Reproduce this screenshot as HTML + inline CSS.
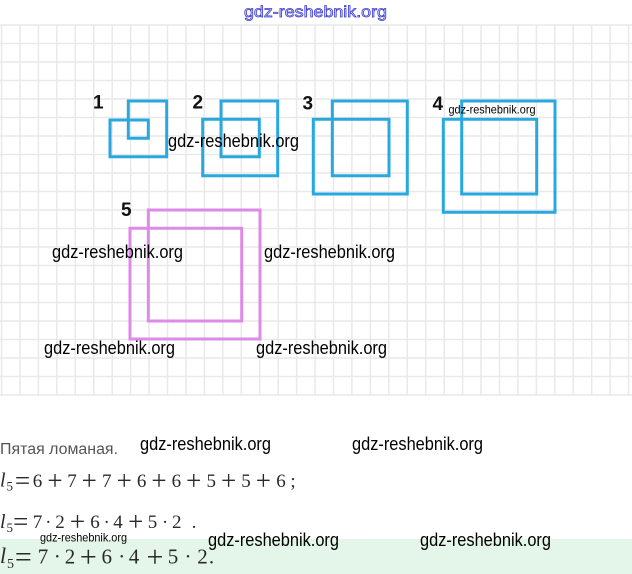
<!DOCTYPE html>
<html>
<head>
<meta charset="utf-8">
<style>
  html, body { margin: 0; padding: 0; background: #ffffff; }
  body { width: 632px; height: 574px; overflow: hidden; }
  svg { display: block; }
</style>
</head>
<body>
<svg width="632" height="574" viewBox="0 0 632 574" xmlns="http://www.w3.org/2000/svg">
  <rect x="0" y="0" width="632" height="574" fill="#ffffff"/>

  <!-- green band -->
  <rect x="0" y="539" width="632" height="35" fill="#e3f6e9"/>

  <!-- grid -->
  <g stroke="#e9e9e9" stroke-width="1.5" fill="none">
    <path d="M0 25H632 M0 43.5H632 M0 62H632 M0 80.5H632 M0 99H632 M0 117.5H632 M0 136H632 M0 154.5H632 M0 173H632 M0 191.5H632 M0 210H632 M0 228.5H632 M0 247H632 M0 265.5H632 M0 284H632 M0 302.5H632 M0 321H632 M0 339.5H632 M0 358H632 M0 376.5H632 M0 395H632"/>
    <path d="M1.6 25V395 M20 25V395 M38.4 25V395 M56.9 25V395 M75.3 25V395 M93.8 25V395 M112.2 25V395 M130.6 25V395 M149.1 25V395 M167.5 25V395 M186 25V395 M204.4 25V395 M222.9 25V395 M241.3 25V395 M259.7 25V395 M278.2 25V395 M296.6 25V395 M315.1 25V395 M333.5 25V395 M351.9 25V395 M370.4 25V395 M388.8 25V395 M407.3 25V395 M425.7 25V395 M444.2 25V395 M462.6 25V395 M481 25V395 M499.5 25V395 M517.9 25V395 M536.4 25V395 M554.8 25V395 M573.2 25V395 M591.7 25V395 M610.1 25V395 M628.6 25V395"/>
  </g>

  <!-- shapes -->
  <g fill="none" stroke="#29a8e0" stroke-width="3" stroke-linejoin="miter">
    <path d="M128.3,101 H166.7 V156.7 H110 V120 H148.3 V138.3 H128.3 Z"/>
    <path d="M221,101 H277.7 V175.7 H202.7 V119.3 H259.3 V156.7 H221 Z"/>
    <path d="M332.3,101 H407.3 V194 H313.3 V119.3 H389 V175.7 H332.3 Z"/>
    <path d="M461.7,101 H555 V212.3 H443.3 V119.3 H536.7 V194 H461.7 Z"/>
  </g>
  <path d="M148.3,210 H260 V339 H130 V228.3 H241.7 V321 H148.3 Z" fill="none" stroke="#dd8ae8" stroke-width="3"/>

  <!-- numbers -->
  <g font-family="'Liberation Sans', sans-serif" font-weight="bold" font-size="19" fill="#111">
    <text x="93" y="108.5">1</text>
    <text x="192.5" y="108.5">2</text>
    <text x="302.5" y="109.5">3</text>
    <text x="432.5" y="110">4</text>
    <text x="121" y="216">5</text>
  </g>

  <!-- top watermark -->
  <text x="244" y="17" font-family="'Liberation Sans', sans-serif" font-size="16" fill="#e4e4fc" stroke="#3b3bd0" stroke-width="0.75" textLength="143" lengthAdjust="spacingAndGlyphs">gdz-reshebnik.org</text>

  <!-- watermarks -->
  <g font-family="'Liberation Sans', sans-serif" font-size="18" fill="#000">
    <text x="168" y="147" textLength="131" lengthAdjust="spacingAndGlyphs">gdz-reshebnik.org</text>
    <text x="52" y="258" textLength="131" lengthAdjust="spacingAndGlyphs">gdz-reshebnik.org</text>
    <text x="264" y="258" textLength="131" lengthAdjust="spacingAndGlyphs">gdz-reshebnik.org</text>
    <text x="44" y="354" textLength="131" lengthAdjust="spacingAndGlyphs">gdz-reshebnik.org</text>
    <text x="256" y="354" textLength="131" lengthAdjust="spacingAndGlyphs">gdz-reshebnik.org</text>
    <text x="140" y="450" textLength="131" lengthAdjust="spacingAndGlyphs">gdz-reshebnik.org</text>
    <text x="352" y="450" textLength="131" lengthAdjust="spacingAndGlyphs">gdz-reshebnik.org</text>
    <text x="208" y="546" textLength="131" lengthAdjust="spacingAndGlyphs">gdz-reshebnik.org</text>
    <text x="420" y="546" textLength="131" lengthAdjust="spacingAndGlyphs">gdz-reshebnik.org</text>
  </g>
  <g font-family="'Liberation Sans', sans-serif" font-size="12" fill="#000">
    <text x="448.5" y="113.5" textLength="87" lengthAdjust="spacingAndGlyphs">gdz-reshebnik.org</text>
    <text x="40" y="541.5" textLength="87" lengthAdjust="spacingAndGlyphs">gdz-reshebnik.org</text>
  </g>

  <!-- caption -->
  <text x="0" y="454" font-family="'Liberation Sans', sans-serif" font-size="15.5" fill="#555555" textLength="118" lengthAdjust="spacingAndGlyphs">Пятая ломаная.</text>

  <!-- formula line 1 -->
  <g font-family="'Liberation Serif', serif" fill="#2a2a2a" text-anchor="middle">
    <text x="2.8" y="486.5" font-size="20" font-style="italic">l</text>
    <text x="9.7" y="490.5" font-size="13">5</text>
    <text x="22.5" y="489.5" font-size="27">=</text>
    <text x="37.5" y="487" font-size="19">6</text>
    <text x="55" y="489.5" font-size="27">+</text>
    <text x="72" y="487" font-size="19">7</text>
    <text x="89.3" y="489.5" font-size="27">+</text>
    <text x="106.8" y="487" font-size="19">7</text>
    <text x="124.2" y="489.5" font-size="27">+</text>
    <text x="141.6" y="487" font-size="19">6</text>
    <text x="159" y="489.5" font-size="27">+</text>
    <text x="176.4" y="487" font-size="19">6</text>
    <text x="193.8" y="489.5" font-size="27">+</text>
    <text x="211.2" y="487" font-size="19">5</text>
    <text x="228.6" y="489.5" font-size="27">+</text>
    <text x="246" y="487" font-size="19">5</text>
    <text x="263.4" y="489.5" font-size="27">+</text>
    <text x="281" y="487" font-size="19">6</text>
    <text x="293" y="487" font-size="19">;</text>
  </g>

  <!-- formula line 2 -->
  <g font-family="'Liberation Serif', serif" fill="#2a2a2a" text-anchor="middle">
    <text x="2.8" y="528" font-size="20" font-style="italic">l</text>
    <text x="9.7" y="532" font-size="13">5</text>
    <text x="20.8" y="530.5" font-size="27">=</text>
    <text x="37.5" y="528" font-size="19">7</text>
    <text x="48.3" y="528" font-size="19">·</text>
    <text x="60" y="528" font-size="19">2</text>
    <text x="77.5" y="530.5" font-size="27">+</text>
    <text x="95" y="528" font-size="19">6</text>
    <text x="106.7" y="528" font-size="19">·</text>
    <text x="118" y="528" font-size="19">4</text>
    <text x="135.8" y="530.5" font-size="27">+</text>
    <text x="152.5" y="528" font-size="19">5</text>
    <text x="165" y="528" font-size="19">·</text>
    <text x="176.7" y="528" font-size="19">2</text>
    <text x="194" y="528" font-size="19">.</text>
  </g>

  <!-- formula line 3 -->
  <g font-family="'Liberation Serif', serif" fill="#2a2a2a" text-anchor="middle">
    <text x="3" y="563" font-size="22" font-style="italic">l</text>
    <text x="10.5" y="568" font-size="14">5</text>
    <text x="23.3" y="566.5" font-size="30">=</text>
    <text x="43" y="563.5" font-size="21">7</text>
    <text x="57.3" y="563.5" font-size="21">·</text>
    <text x="70" y="563.5" font-size="21">2</text>
    <text x="88.3" y="566.5" font-size="30">+</text>
    <text x="106.7" y="563.5" font-size="21">6</text>
    <text x="121.7" y="563.5" font-size="21">·</text>
    <text x="134" y="563.5" font-size="21">4</text>
    <text x="155" y="566.5" font-size="30">+</text>
    <text x="173" y="563.5" font-size="21">5</text>
    <text x="188" y="563.5" font-size="21">·</text>
    <text x="202.5" y="563.5" font-size="21">2</text>
    <text x="211.5" y="563.5" font-size="21">.</text>
  </g>
</svg>
</body>
</html>
